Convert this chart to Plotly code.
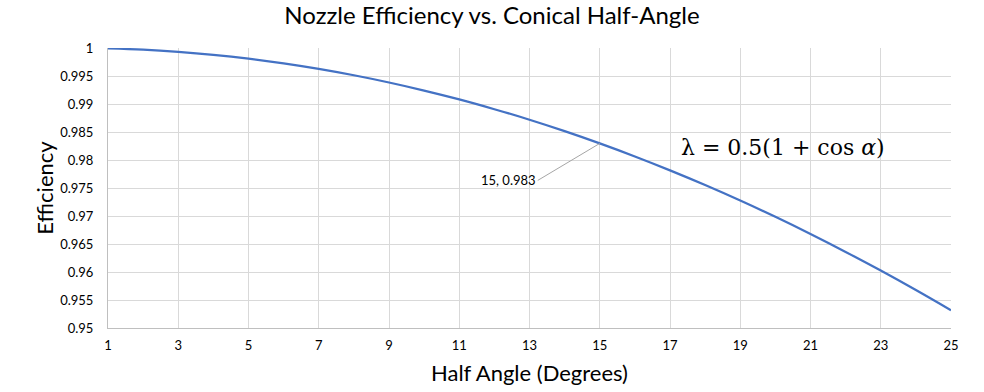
import plotly.graph_objects as go

half_angle_deg = list(range(1, 26))
efficiency = [0.99992, 0.99970, 0.99931, 0.99878, 0.99810, 0.99726, 0.99627, 0.99513,
              0.99384, 0.99240, 0.99082, 0.98907, 0.98719, 0.98515, 0.98296, 0.98063,
              0.97815, 0.97553, 0.97276, 0.96985, 0.96679, 0.96359, 0.96025, 0.95677,
              0.95316]
x_ticks = list(range(1, 26, 2))
y_ticks = [0.95, 0.955, 0.96, 0.965, 0.97, 0.975, 0.98, 0.985, 0.99, 0.995, 1.0]
y_tick_text = ["0.95", "0.955", "0.96", "0.965", "0.97", "0.975", "0.98", "0.985",
               "0.99", "0.995", "1"]
label_x, label_y, label_text = 15, 0.98296, "15, 0.983"

FONT = "Lato, Calibri, Open Sans, sans-serif"

fig = go.Figure()
fig.add_trace(go.Scatter(x=half_angle_deg, y=efficiency, mode="lines",
                         line=dict(color="#4472C4", width=2.25, shape="spline"),
                         hoverinfo="x+y", showlegend=False))

fig.add_annotation(x=label_x, y=label_y, text=label_text, showarrow=True,
                   arrowhead=0, arrowwidth=1, arrowcolor="#A6A6A6",
                   ax=-62, ay=37, xanchor="right", yanchor="middle",
                   font=dict(family=FONT, size=13, color="#000000"))

fig.add_annotation(xref="paper", yref="paper", x=0.677, y=0.643,
                   text="λ = 0.5(1 + cos <i>α</i>)", showarrow=False,
                   xanchor="left", yanchor="middle",
                   font=dict(family="DejaVu Serif, Liberation Serif, serif", size=22, color="#000000"))

fig.update_layout(
    width=984, height=392,
    margin=dict(l=108, r=33, t=48, b=64, autoexpand=False),
    paper_bgcolor="white", plot_bgcolor="white",
    title=dict(text="Nozzle Efficiency vs. Conical Half-Angle", x=0.5, xanchor="center",
               y=0.96, yanchor="middle",
               font=dict(family=FONT, size=24, color="#000000")),
    font=dict(family=FONT, color="#000000"),
    xaxis=dict(range=[1, 25], tickvals=x_ticks, showgrid=True, gridcolor="#D9D9D9",
               gridwidth=1, showline=True, linecolor="#BFBFBF", linewidth=1,
               zeroline=False, ticks="", ticklabelstandoff=5, automargin=False,
               tickfont=dict(family=FONT, size=13, color="#000000"),
               title=dict(text="Half Angle (Degrees)", standoff=14,
                          font=dict(family=FONT, size=22, color="#000000"))),
    yaxis=dict(range=[0.95, 1.0], tickvals=y_ticks, ticktext=y_tick_text, showgrid=True,
               gridcolor="#D9D9D9", gridwidth=1, showline=True, linecolor="#BFBFBF",
               linewidth=1, zeroline=False, ticks="", ticklabelstandoff=11, automargin=False,
               tickfont=dict(family=FONT, size=13, color="#000000"),
               title=dict(text="Efficiency", standoff=0,
                          font=dict(family=FONT, size=22, color="#000000"))),
)

fig.write_html("out.html", config={"displayModeBar": False},
               post_script="document.body.style.margin='0px';")
